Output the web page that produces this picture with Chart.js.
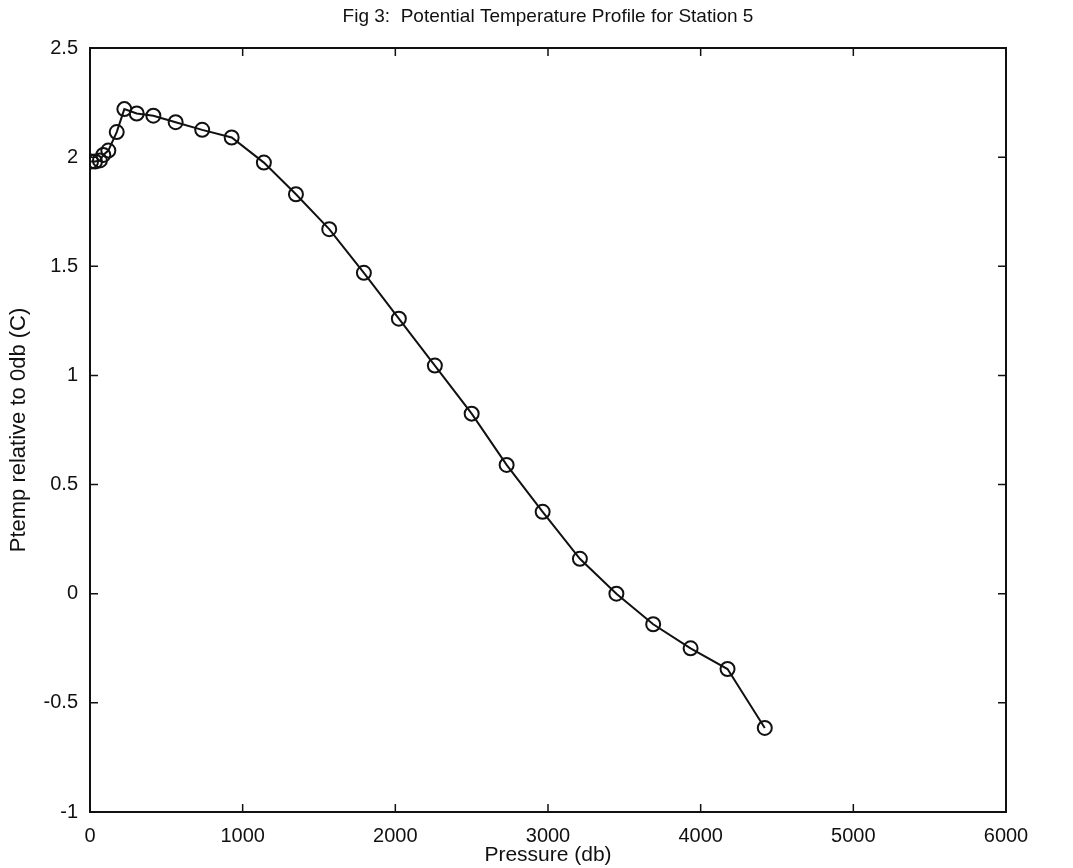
<!DOCTYPE html>
<html>
<head>
<meta charset="utf-8">
<script src="https://cdn.jsdelivr.net/npm/chart.js@4/dist/chart.umd.min.js"></script>
<style>
html,body{margin:0;padding:0;background:#fff;}
#wrap{width:1073px;height:868px;position:relative;}
</style>
</head>
<body>
<div id="wrap"><canvas id="c"></canvas></div>
<script>
// Data
const pressure = [7, 33, 65, 87, 120, 175, 225, 306, 415, 561, 735, 928, 1139, 1349, 1567, 1794, 2023, 2259, 2500, 2729, 2965, 3209, 3448, 3689, 3934, 4176, 4420];
const ptemp = [1.98, 1.98, 1.985, 2.01, 2.03, 2.115, 2.22, 2.20, 2.19, 2.16, 2.125, 2.09, 1.975, 1.83, 1.67, 1.47, 1.26, 1.045, 0.825, 0.59, 0.375, 0.16, 0.0, -0.14, -0.25, -0.345, -0.615];

const xTickValues = [0, 1000, 2000, 3000, 4000, 5000, 6000];
const xTickLabels = ['0', '1000', '2000', '3000', '4000', '5000', '6000'];
const yTickValues = [-1, -0.5, 0, 0.5, 1, 1.5, 2, 2.5];
const yTickLabels = ['-1', '-0.5', '0', '0.5', '1', '1.5', '2', '2.5'];

const titleText = 'Fig 3:  Potential Temperature Profile for Station 5';
const xTitle = 'Pressure (db)';
const yTitle = 'Ptemp relative to 0db (C)';

const points = pressure.map((p, i) => ({x: p, y: ptemp[i]}));
const INK = '#111';
const FONT = "'Liberation Sans', Arial, sans-serif";

const framePlugin = {
  id: 'frame',
  afterDraw(chart) {
    const {ctx, chartArea: a, scales} = chart;
    ctx.save();
    ctx.strokeStyle = INK;
    ctx.lineWidth = 2;
    ctx.strokeRect(a.left, a.top, a.right - a.left, a.bottom - a.top);
    const tl = 8;
    ctx.lineWidth = 1.5;
    ctx.beginPath();
    xTickValues.forEach(v => {
      const px = scales.x.getPixelForValue(v);
      ctx.moveTo(px, a.bottom); ctx.lineTo(px, a.bottom - tl);
      ctx.moveTo(px, a.top); ctx.lineTo(px, a.top + tl);
    });
    yTickValues.forEach(v => {
      const py = scales.y.getPixelForValue(v);
      ctx.moveTo(a.left, py); ctx.lineTo(a.left + tl, py);
      ctx.moveTo(a.right, py); ctx.lineTo(a.right - tl, py);
    });
    ctx.stroke();
    ctx.restore();
  }
};

new Chart(document.getElementById('c'), {
  type: 'line',
  data: {
    datasets: [{
      data: points,
      borderColor: INK,
      borderWidth: 2,
      tension: 0,
      fill: false,
      pointStyle: 'circle',
      pointRadius: 7,
      pointBorderWidth: 2,
      pointBorderColor: INK,
      pointBackgroundColor: 'rgba(0,0,0,0)'
    }]
  },
  options: {
    responsive: true,
    maintainAspectRatio: false,
    animation: false,
    devicePixelRatio: 1,
    layout: {padding: {left: 0, right: 67, top: 0, bottom: 0}},
    plugins: {
      legend: {display: false},
      tooltip: {enabled: false},
      title: {
        display: true,
        text: titleText,
        fullSize: false,
        color: INK,
        font: {family: FONT, size: 19, weight: 'normal'},
        padding: {top: 5, bottom: 20.2}
      }
    },
    scales: {
      x: {
        type: 'linear',
        min: 0, max: 6000,
        afterFit(s) { s.height = 56; },
        afterBuildTicks(s) { s.ticks = xTickValues.map(v => ({value: v})); },
        grid: {display: false},
        border: {display: false},
        ticks: {
          color: INK,
          padding: 4,
          maxRotation: 0,
          font: {family: FONT, size: 20},
          callback: (v) => xTickLabels[xTickValues.indexOf(v)]
        },
        title: {
          display: true, text: xTitle, color: INK,
          font: {family: FONT, size: 21},
          padding: {top: 3, bottom: 0}
        }
      },
      y: {
        type: 'linear',
        min: -1, max: 2.5,
        afterFit(s) { s.width = 90; },
        afterBuildTicks(s) { s.ticks = yTickValues.map(v => ({value: v})); },
        grid: {display: false},
        border: {display: false},
        ticks: {
          color: INK,
          padding: 4,
          font: {family: FONT, size: 20},
          callback: (v) => yTickLabels[yTickValues.indexOf(v)]
        },
        title: {
          display: true, text: yTitle, color: INK,
          font: {family: FONT, size: 22},
          padding: {top: 6, bottom: 0}
        }
      }
    }
  },
  plugins: [framePlugin]
});
</script>
</body>
</html>
